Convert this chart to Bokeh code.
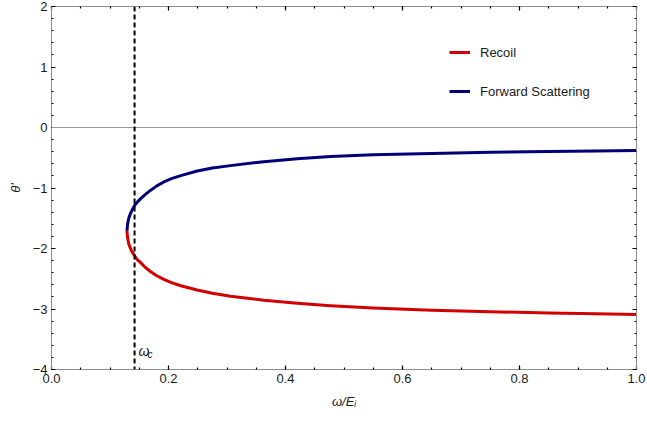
from bokeh.plotting import figure
from bokeh.models import (LinearAxis, FixedTicker, Span, Label, Legend,
                          LegendItem, Range1d)
from bokeh.embed import file_html
from bokeh.resources import INLINE

# ---- data ----
OMEGA = [0.129, 0.130, 0.132, 0.135, 0.138, 0.142, 0.147, 0.152, 0.160, 0.169,
         0.180, 0.192, 0.205, 0.221, 0.249, 0.275, 0.306, 0.363, 0.420, 0.477,
         0.550, 0.650, 0.750, 0.850, 0.930, 1.000]
FORWARD = [-1.71, -1.60, -1.50, -1.42, -1.36, -1.29, -1.23, -1.18, -1.11, -1.04,
           -0.965, -0.90, -0.845, -0.795, -0.72, -0.67, -0.63, -0.565, -0.515, -0.48,
           -0.452, -0.428, -0.41, -0.396, -0.387, -0.38]
RECOIL = [-1.71, -1.82, -1.92, -2.00, -2.06, -2.12, -2.19, -2.23, -2.31, -2.38,
          -2.45, -2.51, -2.565, -2.615, -2.685, -2.74, -2.79, -2.855, -2.905, -2.945,
          -2.985, -3.02, -3.045, -3.065, -3.08, -3.09]
OMEGA_C = 0.142
OMEGA_C_LABEL_Y = -3.69

X_TICKS = [0.0, 0.2, 0.4, 0.6, 0.8, 1.0]
X_TICK_LABELS = ["0.0", "0.2", "0.4", "0.6", "0.8", "1.0"]
Y_TICKS = [-4, -3, -2, -1, 0, 1, 2]
Y_TICK_LABELS = ["\u22124", "\u22123", "\u22122", "\u22121", "0", "1", "2"]
X_MINOR = [round(0.05 * i, 2) for i in range(21)]
Y_MINOR = [round(-4 + 0.2 * i, 1) for i in range(31)]

RED = "#d20000"
NAVY = "#000078"
FONT = "Liberation Sans"
FRAME = "#8c8c8c"

p = figure(width=647, height=424, x_range=Range1d(0, 1), y_range=Range1d(-4, 2),
           output_backend="svg", toolbar_location=None,
           min_border_left=51, min_border_right=11, min_border_top=6,
           min_border_bottom=55)
p.xgrid.visible = False
p.ygrid.visible = False
p.outline_line_color = FRAME
p.background_fill_color = "white"
p.border_fill_color = "white"


def style(ax, ticks, minor, labels, show):
    ax.ticker = FixedTicker(ticks=ticks, minor_ticks=minor)
    ax.axis_line_color = FRAME
    ax.major_tick_line_color = "black"
    ax.minor_tick_line_color = "black"
    ax.major_tick_in = 4
    ax.major_tick_out = 0
    ax.minor_tick_in = 2
    ax.minor_tick_out = 0
    ax.major_tick_line_width = 1.2
    ax.minor_tick_line_width = 1.2
    if show:
        ax.major_label_overrides = {t: l for t, l in zip(ticks, labels)}
        ax.major_label_text_font = FONT
        ax.major_label_text_font_size = "13px"
        ax.major_label_text_color = "#1a1a1a"
        ax.axis_label_text_font = FONT
        ax.axis_label_text_font_size = "13px"
        ax.axis_label_text_font_style = "italic"
        ax.axis_label_text_color = "#1a1a1a"
    else:
        ax.major_label_text_font_size = "0px"
        ax.major_label_text_color = None
        ax.major_label_standoff = 0


xa = p.xaxis[0]
style(xa, X_TICKS, X_MINOR, X_TICK_LABELS, True)
xa.axis_label = "\u03c9/E\u1d62"
xa.major_label_standoff = 4
xa.axis_label_standoff = 8

ya = p.yaxis[0]
style(ya, Y_TICKS, Y_MINOR, Y_TICK_LABELS, True)
ya.axis_label = "\u03b8'"
ya.major_label_standoff = 4
ya.axis_label_standoff = 7

top = LinearAxis()
style(top, X_TICKS, X_MINOR, X_TICK_LABELS, False)
p.add_layout(top, "above")
right = LinearAxis()
style(right, Y_TICKS, Y_MINOR, Y_TICK_LABELS, False)
p.add_layout(right, "right")

# zero line and omega_c line
p.add_layout(Span(location=0, dimension="width", line_color="#9a9a9a", line_width=1))
p.add_layout(Span(location=OMEGA_C, dimension="height", line_color="black",
                  line_width=2, line_dash="5 3"))

r_red = p.line(OMEGA, RECOIL, line_color=RED, line_width=3, line_join="round")
r_blue = p.line(OMEGA, FORWARD, line_color=NAVY, line_width=3, line_join="round")

p.add_layout(Label(x=OMEGA_C, y=OMEGA_C_LABEL_Y, x_offset=4, text="\u03c9",
                   text_font=FONT, text_font_size="14px", text_font_style="italic",
                   text_baseline="middle", text_color="#1a1a1a"))
p.add_layout(Label(x=OMEGA_C, y=OMEGA_C_LABEL_Y, x_offset=13, y_offset=-4, text="c",
                   text_font=FONT, text_font_size="10px", text_font_style="italic",
                   text_baseline="middle", text_color="#1a1a1a"))

# legend
legend = Legend(items=[LegendItem(label="Recoil", renderers=[r_red]),
                       LegendItem(label="Forward Scattering", renderers=[r_blue])],
                location=(398, 268), padding=0, margin=0, spacing=19,
                glyph_width=21, glyph_height=20, label_standoff=10,
                label_text_font=FONT, label_text_font_size="13px",
                label_text_color="#1a1a1a",
                border_line_color=None, background_fill_alpha=0)
p.add_layout(legend, "center")

open("out.html", "w").write(file_html(p, INLINE))
